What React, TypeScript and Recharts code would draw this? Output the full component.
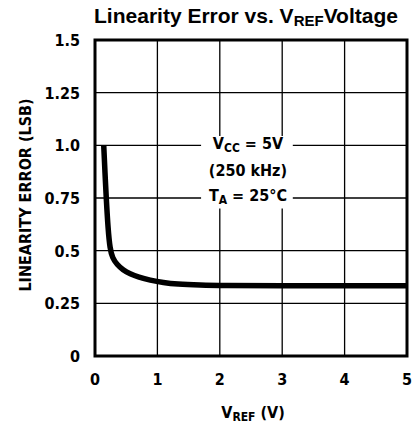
import React from "react";
import {
  LineChart,
  Line,
  XAxis,
  YAxis,
  CartesianGrid,
  ReferenceArea,
  Label,
} from "recharts";

const vref = [0.14, 0.16, 0.18, 0.21, 0.24, 0.28, 0.35, 0.45, 0.56, 0.7, 0.88, 1.1, 1.3, 1.7, 2, 3, 4, 5];
const linErr = [1.0, 0.87, 0.75, 0.6, 0.51, 0.465, 0.435, 0.408, 0.39, 0.374, 0.36, 0.348, 0.341, 0.336, 0.334, 0.333, 0.333, 0.333];
const xTicks = [0, 1, 2, 3, 4, 5];
const yTicks = [0, 0.25, 0.5, 0.75, 1.0, 1.25, 1.5];
const yTickLabels = ["0", "0.25", "0.5", "0.75", "1.0", "1.25", "1.5"];

const data = vref.map((v, i) => ({ v, e: linErr[i] }));

const COND = "'Liberation Sans Narrow', 'DejaVu Sans Condensed', 'Arial Narrow', sans-serif";

const YTick = (props: any) => {
  const { x, y, payload } = props;
  const idx = yTicks.indexOf(payload.value);
  return (
    <text x={x} y={y} dy={6} textAnchor="end" fontFamily={COND} fontWeight="bold" fontSize={16} fill="#000">
      {idx >= 0 ? yTickLabels[idx] : payload.value}
    </text>
  );
};

const XTick = (props: any) => {
  const { x, y, payload } = props;
  return (
    <text x={x} y={y} dy={11} textAnchor="middle" fontFamily={COND} fontWeight="bold" fontSize={16} fill="#000">
      {payload.value}
    </text>
  );
};

const XLabel = (props: any) => {
  const vb = props.viewBox;
  const cx = vb.x + vb.width / 2 + 2;
  return (
    <text x={cx} y={vb.y + 62} textAnchor="middle" fontFamily={COND} fontWeight="bold" fontSize={16} fill="#000">
      <tspan>V</tspan>
      <tspan fontSize={12} dy={3}>REF</tspan>
      <tspan dy={-3}> (V)</tspan>
    </text>
  );
};

const YLabel = (props: any) => {
  const vb = props.viewBox;
  const cx = 25;
  const cy = vb.y + vb.height / 2 - 3;
  return (
    <text
      x={cx}
      y={cy}
      transform={`rotate(-90 ${cx} ${cy})`}
      textAnchor="middle"
      dominantBaseline="central"
      fontFamily={COND}
      fontWeight="bold"
      fontSize={16}
      fill="#000"
    >
      LINEARITY ERROR (LSB)
    </text>
  );
};

const Annot = (props: any) => {
  const vb = props.viewBox;
  const cx = vb.x + vb.width / 2 + 1;
  const top = vb.y;
  const common = {
    textAnchor: "middle" as const,
    fontFamily: COND,
    fontWeight: "bold",
    fontSize: 16,
    fill: "#000",
  };
  return (
    <g>
      <text x={cx} y={top + 13} {...common}>
        <tspan>V</tspan>
        <tspan fontSize={12} dy={3}>CC</tspan>
        <tspan dy={-3}> = 5V</tspan>
      </text>
      <text x={cx} y={top + 40} {...common}>
        (250 kHz)
      </text>
      <text x={cx} y={top + 65} {...common}>
        <tspan>T</tspan>
        <tspan fontSize={12} dy={3}>A</tspan>
        <tspan dy={-3}> = 25°C</tspan>
      </text>
    </g>
  );
};

export default function App() {
  return (
    <div style={{ position: "absolute", left: 0, top: 0, width: 416, height: 427, background: "#fff" }}>
      <div
        style={{
          position: "absolute",
          left: 86,
          top: 4,
          width: 320,
          textAlign: "center",
          fontFamily: "'Liberation Sans', Arial, sans-serif",
          fontWeight: "bold",
          fontSize: 21,
          lineHeight: "24px",
          color: "#000",
          whiteSpace: "nowrap",
        }}
      >
        Linearity Error vs. V<sub style={{ fontSize: 15, verticalAlign: "-3px", lineHeight: 0 }}>REF</sub>Voltage
      </div>
      <LineChart
        width={416}
        height={427}
        data={data}
        margin={{ top: 40, right: 9, bottom: 0, left: 0 }}
      >
        <CartesianGrid stroke="#000" strokeWidth={1.3} horizontalValues={yTicks} verticalValues={xTicks} />
        <XAxis
          type="number"
          dataKey="v"
          domain={[0, 5]}
          ticks={xTicks}
          axisLine={false}
          tickLine={false}
          tickMargin={12}
          height={71}
          tick={<XTick />}
          interval={0}
        >
          <Label content={<XLabel />} />
        </XAxis>
        <YAxis
          type="number"
          domain={[0, 1.5]}
          ticks={yTicks}
          axisLine={false}
          tickLine={false}
          tickMargin={9}
          width={95}
          tick={<YTick />}
          interval={0}
        >
          <Label content={<YLabel />} />
        </YAxis>
        <ReferenceArea x1={1.7} x2={3.17} y1={0.7} y2={1.044} fill="#fff" fillOpacity={1} stroke="none" label={<Annot />} />
        <ReferenceArea x1={0} x2={5} y1={0} y2={1.5} fill="none" stroke="#000" strokeWidth={3} />
        <Line
          type="basis"
          dataKey="e"
          stroke="#000"
          strokeWidth={5.5}
          dot={false}
          isAnimationActive={false}
        />
      </LineChart>
    </div>
  );
}
